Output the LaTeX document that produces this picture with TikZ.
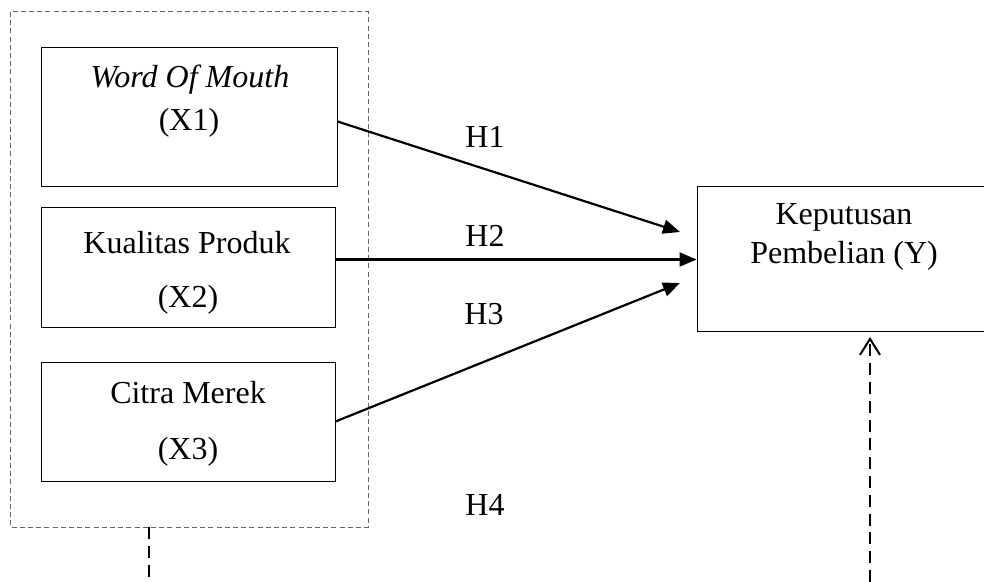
\documentclass[tikz,border=0pt]{standalone}
\usepackage{fontspec}
\setmainfont{Liberation Serif}
\usetikzlibrary{arrows.meta}

\tikzset{
  varbox/.style={draw, line width=0.5pt, minimum width=147pt, minimum height=60pt, inner sep=0pt},
  hyp/.style={line width=1.1pt, -{Triangle[length=8.5pt,width=7pt]}},
  link/.style={line width=1pt, dash pattern=on 6pt off 3.4pt},
  lbl/.style={font=\fontsize{16}{19}\selectfont, inner sep=0pt}
}

\begin{document}
\begin{tikzpicture}[x=0.5pt,y=-0.5pt]
  \useasboundingbox (0,0) rectangle (984,582);

  % independent variables
  \draw [line width=0.5pt, gray!80!black, dash pattern=on 2.5pt off 1.6pt] (10,12) rectangle (368,527);
  \node [varbox, minimum width=148pt, minimum height=69.5pt] (x1) at (189,117.5) {};
  \node [varbox] (x2) at (188,268) {};
  \node [varbox, minimum height=59.5pt] (x3) at (188,421.5) {};

  \node [lbl] at (190,80) {\itshape Word Of Mouth};
  \node [lbl] at (189,123) {(X1)};
  \node [lbl] at (187,243) {Kualitas Produk};
  \node [lbl] at (188,300) {(X2)};
  \node [lbl] at (188,393) {Citra Merek};
  \node [lbl] at (188,452) {(X3)};

  % dependent variable
  \node [varbox, minimum width=147pt, minimum height=72.5pt] (y) at (844,259.5) {};
  \node [lbl] at (844,217) {Keputusan};
  \node [lbl] at (844,256) {Pembelian (Y)};

  % hypotheses
  \coordinate (h1end) at (680,232);
  \coordinate (h3end) at (680,283);
  \draw [hyp] (x1.east) ++(0,4) -- (h1end);
  \draw [hyp] (x2.east |- y.west) -- (y.west);
  \draw [hyp] (x3.east) -- (h3end);

  \node [lbl] at (485,137) {H1};
  \node [lbl] at (485,236) {H2};
  \node [lbl] at (484,314) {H3};
  \node [lbl] at (485,505) {H4};

  % simultaneous effect
  \coordinate (sbot) at (149,527);
  \coordinate (sfoot) at (149,582);
  \coordinate (yfoot) at (870,582);
  \coordinate (ytip) at (870,337);
  \draw [link] (sbot) -- (sfoot);
  \draw [link, -{Straight Barb[length=8pt,width=10pt,line width=1pt]}] (yfoot) -- (ytip);
\end{tikzpicture}
\end{document}
